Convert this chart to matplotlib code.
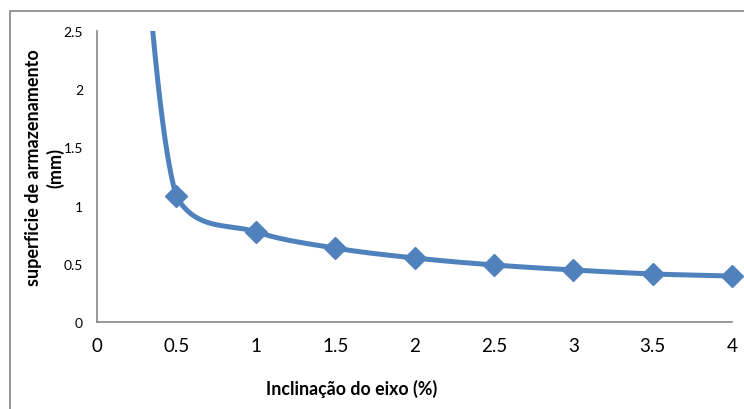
import numpy as np
import matplotlib
matplotlib.use("Agg")
import matplotlib.pyplot as plt
from matplotlib.patches import Rectangle
from matplotlib.ticker import FuncFormatter

# data
inclinacao = [0.25, 0.5, 1.0, 1.5, 2.0, 2.5, 3.0, 3.5, 4.0]
superficie = [4.1, 1.08, 0.775, 0.635, 0.55, 0.49, 0.447, 0.413, 0.395]

x_ticks = [0, 0.5, 1, 1.5, 2, 2.5, 3, 3.5, 4]
y_ticks = [0, 0.5, 1, 1.5, 2, 2.5]

blue = "#4F81BD"
grey = "#868686"

plt.rcParams['font.family'] = ['Lato', 'DejaVu Sans']


# Excel-like smoothed line (bezier through the points, no overshoot)
def smooth(xs, ys, n=80):
    p = np.column_stack([xs, ys]).astype(float)
    p = np.vstack([p[0], p, p[-1]])
    out = []
    t = np.linspace(0, 1, n)[:, None]
    for i in range(1, len(p) - 2):
        p0, p1, p2, p3 = p[i - 1], p[i], p[i + 1], p[i + 2]
        c1 = p1 + (p2 - p0) / 6
        c2 = p2 - (p3 - p1) / 6
        lo, hi = min(p1[1], p2[1]), max(p1[1], p2[1])
        c1[1] = np.clip(c1[1], lo, hi)
        c2[1] = np.clip(c2[1], lo, hi)
        seg = ((1 - t) ** 3) * p1 + 3 * ((1 - t) ** 2) * t * c1 \
            + 3 * (1 - t) * t ** 2 * c2 + t ** 3 * p2
        out.append(seg)
    out = np.vstack(out)
    return out[:, 0], out[:, 1]


fig = plt.figure(figsize=(7.44, 4.10), dpi=100)
ax = fig.add_axes([97 / 744, 1 - 323 / 410, (732 - 97) / 744, (323 - 32) / 410])

sx, sy = smooth(inclinacao, superficie)
ax.plot(sx, sy, color=blue, lw=3.6, solid_capstyle='butt')
ax.plot(inclinacao[:-1], superficie[:-1], ls='none', marker='D', ms=11, color=blue)
# last marker sits on the axis edge, keep it whole
ax.plot(inclinacao[-1:], superficie[-1:], ls='none', marker='D', ms=11,
        color=blue, clip_on=False)

ax.set_xlim(0, 4)
ax.set_ylim(0, 2.5)
ax.set_xticks(x_ticks)
ax.set_yticks(y_ticks)
fmt = FuncFormatter(lambda v, pos: "%g" % v)
ax.xaxis.set_major_formatter(fmt)
ax.yaxis.set_major_formatter(fmt)
ax.tick_params(axis='x', length=0, labelsize=13.5, pad=11)
ax.tick_params(axis='y', length=0, labelsize=10, pad=10)

for s in ['top', 'right']:
    ax.spines[s].set_visible(False)
for s in ['left', 'bottom']:
    ax.spines[s].set_color(grey)
    ax.spines[s].set_linewidth(1.2)

fig.text(352 / 744, 1 - 389 / 410, "Inclinação do eixo (%)", fontsize=12.8,
         fontweight='bold', ha='center', va='center')
fig.text(45 / 744, 1 - 168 / 410, "superficie de armazenamento\n(mm)", fontsize=13,
         fontweight='bold', rotation=90, ha='center', va='center',
         multialignment='center', linespacing=1.3)

# chart area border
fig.patches.append(Rectangle((10 / 744, -0.1), 1.2, 1 - 12 / 410 + 0.1,
                             transform=fig.transFigure, fill=False,
                             edgecolor=grey, lw=1.2))

fig.savefig("out.png", dpi=100)
